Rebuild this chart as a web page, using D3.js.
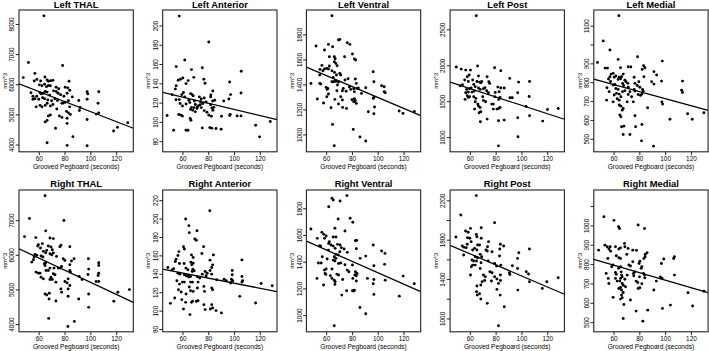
<!DOCTYPE html>
<html><head><meta charset="utf-8">
<script src="https://cdn.jsdelivr.net/npm/d3@7"></script>
<style>body{margin:0;background:#fff}svg{display:block}</style>
</head><body><svg id="c" width="709" height="351"></svg>
<script>
const titles = ["Left THAL","Left Anterior","Left Ventral","Left Post","Left Medial",
                "Right THAL","Right Anterior","Right Ventral","Right Post","Right Medial"];
const xTitle = "Grooved Pegboard (seconds)";
const yTitle = "mm^3";
const xDomain = [44.7, 133.3];
const xTicks = [60, 80, 100, 120];

const leftThal = [[64,8270],[52,6720],[78.5,6620],[48,6220],[57,6360],[64.8,6240],[66.5,6140],[56.5,6110],[58.5,6160],[61.5,6110],[67.5,6100],[69.3,6120],[71,6130],[83.5,6100],[80.5,5900],[82.5,5880],[60.5,5980],[62.5,5950],[64.5,6000],[66,5920],[67.5,5960],[69,5950],[73.5,5900],[75.5,5850],[54,5720],[55.5,5600],[57,5520],[58.5,5600],[61,5720],[62,5680],[63.5,5700],[65,5760],[66.5,5740],[68.5,5640],[71.5,5780],[73.5,5760],[75,5700],[77,5650],[79.5,5600],[82,5700],[84,5800],[86,5580],[97.5,5750],[98,5680],[106.5,5750],[55.5,5500],[60,5500],[63,5550],[64.5,5520],[67,5480],[70,5450],[72.5,5520],[74.5,5460],[78,5370],[80.5,5400],[83,5450],[91,5460],[97.5,5500],[58,5250],[61,5300],[62.5,5250],[65,5300],[66.5,5370],[69,5280],[71,5330],[74,5180],[79,5380],[84,5250],[92,5230],[106,5370],[81.5,5100],[83,5050],[84.5,5000],[91.5,5130],[67.5,4950],[69,4980],[76,4950],[78,4900],[104.5,5010],[106.5,5050],[66.5,4800],[65,4750],[97.5,4830],[82,4870],[82,4700],[73,4540],[118,4450],[121,4570],[129,4720],[66.5,4060],[86.5,4260],[82,3970],[97.5,3960]];
const leftAnterior = [[57.5,209.7],[80.4,182.8],[61.8,164.2],[55.2,157.3],[75.4,156.2],[67,154.2],[105.6,152.5],[68.8,146.2],[58.5,144.2],[56.7,143.1],[60.3,145.5],[64.5,142.8],[62.8,139.7],[76.6,144.2],[77.5,140],[96.6,141.4],[83.5,132.1],[54.5,134.2],[55.2,137.6],[52,128.3],[66.3,129.3],[67.6,128.3],[68.3,127],[82,128],[81.9,125.9],[105.4,130],[97.3,128.3],[96,123.8],[60.8,130.5],[59.5,128.3],[61.8,125.9],[73.1,125.9],[74.6,123.8],[76.9,124.9],[57.5,123.1],[58.2,119],[65,122.4],[65.8,120],[69.3,121.7],[70,118],[74,121],[75.8,119],[78.4,120.7],[83.4,121.7],[85,122.4],[92,121.7],[55,123],[62.8,118.6],[60,116.5],[67,115.1],[69,114.8],[71.5,115.5],[72.5,116.9],[73.8,117.9],[74.6,114.8],[81.9,117.9],[83.6,112],[82.8,114.5],[84.3,115.1],[76.9,111.7],[70,110.4],[71.3,113.8],[66.3,113.1],[68,112],[57.2,107.6],[59,107],[60,106],[48.1,106.6],[66,103.5],[66.6,101.7],[82.4,105.9],[90.3,105.9],[96.6,106.6],[97,107.6],[102.4,106.2],[105.4,106.2],[75.4,93.8],[81.2,94.1],[82.7,93.5],[86,93.1],[90,92.4],[53.2,91.4],[62.8,91.4],[64.3,91.4],[79,110],[80.5,107],[116.7,96.6],[119.8,84.5],[128.1,100.4]];
const leftVentral = [[64.5,1949],[70.6,1760],[69.6,1755],[76.4,1733],[78.4,1720],[61.8,1720],[52.2,1707],[65,1701],[58.7,1675],[80.4,1643],[66.3,1621],[67,1605],[74.3,1621],[62.5,1621],[81.9,1603],[82.9,1595],[66.3,1581],[67.5,1568],[56.7,1552],[68.5,1550],[62.5,1547],[61.8,1523],[58.7,1523],[57.5,1509],[55.2,1520],[55,1475],[60.5,1528],[66.5,1496],[64.5,1509],[70.6,1488],[71.3,1475],[96.5,1501],[65.5,1456],[68,1475],[67,1432],[74.6,1435],[77,1445],[97,1421],[55.7,1403],[55,1408],[48.2,1408],[64.5,1421],[65.8,1421],[67.5,1424],[69.6,1419],[68.8,1395],[82.6,1443],[83.4,1408],[78,1380],[103,1389],[105,1381],[60,1376],[61.3,1368],[60.8,1360],[68.3,1349],[73.3,1368],[72.6,1349],[81.4,1365],[81.9,1341],[79,1360],[75.5,1345],[83.9,1368],[85,1371],[90.7,1373],[87.4,1328],[105.8,1333],[105,1341],[97,1296],[96.5,1288],[61.8,1323],[60.5,1301],[71.3,1301],[72.6,1275],[80,1277],[81.4,1261],[82.6,1269],[81.9,1285],[66.8,1280],[53.2,1283],[58,1251],[83.4,1248],[69.6,1243],[72.8,1216],[75.8,1208],[63.8,1213],[92.7,1181],[97,1165],[97.5,1219],[116.6,1187],[119.6,1168],[128.4,1184],[65,1080],[81,1040],[86.2,979],[90.7,947],[66.3,909]];
const leftPost = [[65,2690],[49.5,1975],[53.3,1947],[56.8,1933],[60.5,1933],[66,1989],[79.2,1966],[84,1924],[59.5,1864],[58,1840],[66.7,1850],[73.4,1840],[90.9,1817],[56,1794],[58.8,1775],[62.2,1794],[63,1734],[65.5,1775],[68.5,1757],[69.2,1775],[67.5,1766],[74.7,1771],[75.4,1748],[97.8,1766],[106.3,1775],[54.3,1729],[52.5,1715],[61,1683],[59.8,1673],[64.2,1701],[66.7,1683],[68,1664],[70.5,1673],[71.7,1687],[81.7,1696],[84,1683],[86.6,1683],[57.5,1664],[56.8,1617],[58.8,1627],[61.7,1627],[63.5,1641],[73,1645],[74.4,1617],[79.7,1622],[82.7,1631],[97.1,1617],[106,1566],[58,1576],[59.8,1562],[58.8,1553],[56.3,1525],[63,1562],[64.7,1539],[70,1562],[79.4,1562],[82.4,1525],[83.4,1553],[91.1,1548],[92.9,1548],[64.2,1492],[66.2,1460],[70.5,1511],[72.2,1492],[66.7,1432],[68,1413],[77,1460],[78.2,1460],[103.6,1427],[81,1390],[82.4,1400],[83.4,1413],[78.2,1390],[63.7,1390],[68.5,1353],[67.2,1339],[106.3,1297],[73.4,1251],[97.1,1269],[68.2,1214],[82.2,1228],[86.6,1237],[116.5,1223],[120.2,1385],[128.5,1399],[97.3,1005],[82.2,879]];
const leftMedial = [[64.1,1153],[52,1019],[57.2,971],[47.6,905],[63.6,921],[78.6,935],[97.8,912],[53.5,875],[55.3,875],[65.4,877],[71.4,882],[73.4,881],[83.3,888],[84.3,877],[82.2,868],[91.3,856],[93.4,838],[58.2,843],[59.7,847],[57.2,829],[60.5,826],[61.8,833],[64.4,826],[66.2,829],[67.5,843],[68.8,811],[69.6,803],[76,826],[79.6,803],[83.5,829],[89.5,803],[97.2,806],[113.5,806],[56.1,817],[57.7,804],[63.6,815],[65.4,818],[71.1,794],[76.6,794],[78.4,783],[59.7,785],[61,788],[67,794],[67.8,783],[91.3,790],[54.9,771],[61.8,767],[63.6,762],[71.4,773],[76,762],[80.4,773],[82.5,762],[83,753],[56.6,750],[67,750],[68.8,755],[76.6,753],[112.8,758],[113.5,746],[60.5,732],[62.3,741],[64.4,737],[65.7,723],[71.4,735],[72.7,750],[74,723],[79.1,735],[80.9,730],[82,737],[62.8,712],[64.4,705],[59.7,696],[54.6,705],[70.6,696],[75.3,696],[97.5,696],[98,684],[64.4,679],[65.7,673],[67.5,661],[66.7,652],[64.9,626],[65.7,617],[86.4,665],[76.6,622],[103.7,604],[117.4,633],[121,604],[130,638],[66.2,564],[68,567],[77.1,564],[82,576],[67.5,523],[72.7,523],[81.7,489],[91,461]];
const rightThal = [[64.9,7707],[52.8,7048],[79.5,6990],[49,6526],[65.4,6690],[57.7,6497],[68.7,6487],[71.3,6468],[62.8,6322],[59.2,6255],[59.7,6293],[61.3,6197],[67.4,6255],[69.5,6226],[77.2,6274],[76.4,6235],[84.1,6235],[63.6,6100],[66.2,6129],[65.4,6061],[70.5,6148],[57.2,6013],[58.5,5984],[56.4,5935],[61.8,5964],[63.3,5935],[68.7,6032],[70,6003],[71.3,6051],[73.8,5954],[80.3,5838],[79,5887],[98.5,5887],[55.9,5858],[54.6,5790],[85.4,5819],[87.4,5887],[64.4,5742],[65.4,5771],[64.9,5693],[84.1,5713],[106.5,5771],[106.5,5693],[65.6,5548],[67.4,5548],[68.7,5616],[57.9,5500],[59.7,5471],[61,5471],[71.8,5616],[75.1,5616],[76.4,5616],[77.7,5664],[98.7,5587],[98.2,5432],[106.5,5471],[106,5403],[84.1,5548],[84.6,5500],[72.6,5422],[71.3,5451],[61.8,5354],[63.6,5306],[69.5,5354],[68.7,5287],[70.5,5287],[91.3,5374],[93.6,5287],[80.3,5229],[82,5190],[82.8,5306],[104.5,5229],[106.5,5229],[73.3,5210],[84.1,5113],[82.8,5016],[77.2,5016],[77.7,4919],[64.9,4870],[66.2,4841],[68.2,4890],[98.7,4870],[121.3,4919],[130.3,4996],[82.8,4803],[73.3,4667],[68,4725],[91,4725],[118.2,4657],[98.7,4483],[67.7,4164],[87.6,4077],[82.6,3932]];
const rightAnterior = [[81.2,208.5],[62.5,199.5],[71.3,186.8],[65,192.3],[65.3,184.7],[69.6,177.8],[70.8,176.4],[60.8,169.5],[61.5,167],[76.4,169.5],[57.2,164.1],[56.5,159.8],[67,160.5],[68.3,157.7],[75.1,162],[81.4,154.8],[84,160.5],[106.1,155.1],[55,155.9],[54.5,153.3],[57.7,151.2],[61.3,151.2],[66.6,152.6],[68.3,151.5],[67.3,149.7],[83.4,149.7],[82.7,146.8],[48.7,146.8],[53.2,145.4],[51.9,144.3],[62.8,146.1],[64.3,144.3],[68.1,145],[69.1,143.2],[67.6,142.5],[77.6,142.5],[81.4,143.6],[98.6,143.6],[56.5,140.7],[58,139.6],[75.4,139.6],[79.2,140.7],[82.7,139.6],[61.5,138.9],[63,137.8],[64.5,137.8],[78.4,137.8],[98.6,138.9],[106.1,137.1],[65,136.4],[66.3,137.1],[71.6,136.8],[73.4,135.3],[92.3,134.2],[94,132.4],[98,134.2],[99,132.4],[106.1,131],[106.6,132.4],[121,129.5],[129.6,127],[55.7,132.4],[86.5,133.5],[97.8,131],[97.3,129.9],[57.7,128.8],[60,131],[61.5,131],[66.3,131],[67.8,131],[72.1,131],[65.3,125.6],[71.6,124.5],[76.6,126.3],[82.7,124.5],[83.4,122.7],[56.9,122.7],[59,120.2],[66.3,121.6],[68.3,120.9],[77.1,120.9],[62.8,118],[54,113.7],[59.5,111.9],[70.8,110.1],[72.1,110.8],[104.4,115.5],[67,109],[67.8,110.1],[62.5,109],[50.7,107.9],[76.6,106.5],[82.7,106.5],[83.4,102.9],[81.7,101.8],[86,100],[60.8,101.8],[77.6,101.1],[116.7,108.3],[90.2,97.5],[65.8,95.7]];
const rightVentral = [[76.1,1895],[64.5,1875],[65.5,1862],[70.8,1855],[62,1812],[69.3,1720],[78.6,1725],[80.7,1695],[48.2,1645],[66.8,1650],[56.7,1620],[58.2,1605],[53.2,1575],[60,1592],[58.7,1575],[65.5,1585],[67.6,1585],[62.5,1550],[62,1537],[74.6,1630],[82.7,1557],[83.7,1560],[55.7,1517],[55,1520],[65.5,1517],[63.8,1525],[67,1500],[68.8,1530],[70.8,1525],[71.8,1505],[73.9,1495],[96.5,1525],[103,1480],[105.6,1462],[83.4,1497],[70.6,1475],[67.6,1455],[61.8,1487],[76.4,1470],[69.3,1450],[66.3,1437],[67.6,1425],[86.4,1425],[90.7,1442],[57,1437],[60.8,1420],[65.5,1412],[66.8,1405],[54,1390],[56.2,1390],[69.6,1387],[71.3,1390],[74.6,1377],[80.4,1375],[97,1370],[105.3,1380],[60,1345],[58.7,1337],[64.5,1345],[76.4,1337],[77.6,1325],[82.7,1325],[83.9,1312],[82.2,1300],[83.4,1295],[59.7,1305],[59.2,1312],[63.3,1295],[64.5,1275],[69.6,1300],[68.3,1307],[80.7,1275],[52.9,1275],[92,1275],[97,1267],[105.8,1262],[119.7,1292],[128.3,1235],[58,1225],[66.3,1262],[67,1250],[72.8,1267],[83.4,1255],[96.5,1235],[66.8,1230],[75.9,1182],[80.4,1182],[81.4,1180],[81.9,1187],[72.1,1150],[97,1155],[116.7,1142],[86.2,1057],[90.7,1010],[66.3,920]];
const rightPost = [[65,2248],[53,2051],[79.2,1973],[68.8,1922],[60.5,1915],[49.2,1827],[56.7,1888],[58.7,1875],[65,1854],[65.5,1830],[58.2,1820],[60,1814],[68.8,1814],[54.2,1736],[55.5,1722],[58,1753],[57.2,1719],[61,1780],[74.5,1780],[66,1746],[67.5,1746],[83.7,1753],[86.2,1736],[62.2,1695],[63.7,1712],[65.5,1695],[73.7,1729],[72.5,1695],[73.5,1685],[77.2,1678],[83.2,1705],[98,1668],[106.2,1705],[55.2,1644],[64.2,1627],[66,1617],[69.2,1627],[68,1651],[83,1634],[97,1610],[61.7,1593],[63,1583],[65.2,1583],[68.7,1566],[74.2,1583],[79.2,1559],[64.2,1542],[62.2,1542],[61.2,1525],[80.7,1532],[84,1542],[93,1535],[97,1508],[68,1508],[75.5,1475],[77.2,1464],[90.7,1464],[103.7,1475],[105.5,1451],[91,1447],[70.5,1441],[72,1424],[60.5,1441],[79.2,1424],[81,1400],[83.7,1441],[71.5,1386],[69.5,1373],[76.7,1380],[83.7,1386],[82.2,1356],[68.5,1339],[65.5,1329],[106.2,1373],[119.7,1373],[116.2,1305],[128.5,1414],[81,1295],[97.2,1288],[65.2,1271],[67.5,1251],[65.7,1237],[83.5,1237],[68.5,1197],[73.5,1153],[86.7,1119],[82.2,925]];
const rightMedial = [[52.5,1045],[60.3,1026],[63.9,993],[64.6,984],[79.1,1002],[84,984],[48.4,872],[53.3,898],[55.1,890],[56.4,878],[57.4,890],[57.7,867],[61.5,890],[68.5,907],[68.8,890],[71.3,881],[74.9,872],[77.8,871],[86,859],[84.5,850],[64.1,878],[65.4,884],[70.3,850],[65.4,829],[64.1,833],[62.1,843],[84.5,838],[83.5,829],[107.2,838],[106.6,829],[98.9,826],[55.6,829],[74.9,812],[80.4,815],[97.1,803],[71.9,795],[73.1,790],[59.5,795],[58.5,786],[63.9,778],[65.4,786],[81.9,786],[81.4,778],[79.8,803],[65.9,760],[54.3,752],[61.5,757],[62.1,747],[55.9,726],[76.5,760],[75.5,752],[83.2,752],[84,743],[75.7,740],[61.5,726],[62.8,712],[66.2,743],[66.7,734],[68.8,722],[70.6,743],[80.1,734],[84.2,729],[96.3,734],[97.6,726],[107.2,743],[56.4,700],[65.4,726],[64.9,712],[66.7,700],[67.5,691],[69.3,683],[77.5,712],[78.8,705],[81.9,698],[93.2,712],[65.4,679],[64.1,674],[66.2,666],[91.2,666],[79.1,674],[80.4,678],[67.5,653],[66.2,640],[66.7,626],[73.1,614],[59.7,628],[65.4,619],[68,591],[117.7,652],[130.1,660],[104.1,588],[121.3,583],[97.9,571],[86.5,562],[77.5,557],[67.5,519],[82.7,505]];

const panelData = [leftThal,leftAnterior,leftVentral,leftPost,leftMedial,
                   rightThal,rightAnterior,rightVentral,rightPost,rightMedial];
const yDomains = [[3758,8464],[69,216],[861,1995],[796,2769],[431,1183],
                  [3777,7871],[77,231],[875,1937],[864,2305],[450,1183]];
const yTicks = [[4000,5000,6000,7000,8000],[80,100,120,140,160,180,200],[1000,1200,1400,1600,1800],
                [1000,1500,2000,2500],[500,600,700,800,900,1000,1100],
                [4000,5000,6000,7000],[80,100,120,140,160,180,200,220],[1000,1200,1400,1600,1800],
                [1000,1200,1400,1600,1800,2000,2200],[500,600,700,800,900,1000,1100]];
const hiddenLabels = [[],[],[],[],[1000],[],[],[],[1200,1600,2000],[1100]];
// regression lines: [intercept, slope]
const fitLines = [[6752,-16.59],[144.9,-0.319],[1733,-4.37],[2026,-5.83],[899.4,-1.864],
                  [6954,-17.45],[157.3,-0.275],[1744.7,-4.27],[1994.5,-5.62],[911,-1.94]];

const FONT = "'Liberation Sans', Arial, Helvetica, sans-serif";
const svg = d3.select("#c");
const W = 114.3, H = 141.8;
const colLeft = c => 19 + c * 143.7;
const rowTop = [10, 190];

panelData.forEach((data, i) => {
  const c = i % 5, r = Math.floor(i / 5);
  const L = colLeft(c), T = rowTop[r];
  const g = svg.append("g").attr("transform", `translate(${L},${T})`);
  const x = d3.scaleLinear().domain(xDomain).range([0, W]);
  const y = d3.scaleLinear().domain(yDomains[i]).range([H, 0]);

  g.append("clipPath").attr("id", "clip" + i)
    .append("rect").attr("width", W).attr("height", H);

  g.append("g").selectAll("circle").data(data).join("circle")
    .attr("cx", d => x(d[0])).attr("cy", d => y(d[1]))
    .attr("r", 1.45).attr("fill", "#000");

  const [a, b] = fitLines[i];
  g.append("line").attr("clip-path", `url(#clip${i})`)
    .attr("x1", x(xDomain[0])).attr("y1", y(a + b * xDomain[0]))
    .attr("x2", x(xDomain[1])).attr("y2", y(a + b * xDomain[1]))
    .attr("stroke", "#000").attr("stroke-width", 1.25);

  g.append("rect").attr("width", W).attr("height", H)
    .attr("fill", "none").attr("stroke", "#222").attr("stroke-width", 1.1);

  const xa = g.append("g").attr("transform", `translate(0,${H})`)
    .call(d3.axisBottom(x).tickValues(xTicks).tickSize(3.3).tickFormat(d3.format("d")));
  xa.select(".domain").remove();
  xa.selectAll("line").attr("stroke", "#222");
  xa.selectAll("text").attr("y", 9.7).attr("dy", 0)
    .attr("font-family", FONT).attr("font-size", 6.4).attr("fill", "#000");

  const hid = hiddenLabels[i];
  const ya = g.append("g")
    .call(d3.axisLeft(y).tickValues(yTicks[i]).tickSize(3.3)
      .tickFormat(v => hid.includes(v) ? "" : d3.format("d")(v)));
  ya.select(".domain").remove();
  ya.selectAll("line").attr("stroke", "#222");
  ya.selectAll("text").attr("x", 0).attr("dy", 0)
    .attr("text-anchor", "middle").attr("transform", "translate(-4.8,0) rotate(-90)")
    .attr("font-family", FONT).attr("font-size", 6.4).attr("fill", "#000");

  g.append("text").attr("x", W / 2).attr("y", r === 0 ? -2.2 : -3)
    .attr("text-anchor", "middle").attr("font-family", FONT)
    .attr("font-weight", "bold").attr("font-size", 9.4).text(titles[i]);
  g.append("text").attr("x", W / 2).attr("y", H + 16.7)
    .attr("text-anchor", "middle").attr("font-family", FONT)
    .attr("font-size", 6.6).attr("fill", "#000").text(xTitle);
  g.append("text").attr("transform", `translate(-12.3,${H / 2}) rotate(-90)`)
    .attr("text-anchor", "middle").attr("font-family", FONT)
    .attr("font-size", 5.9).attr("fill", "#000").text(yTitle);
});
</script></body></html>
